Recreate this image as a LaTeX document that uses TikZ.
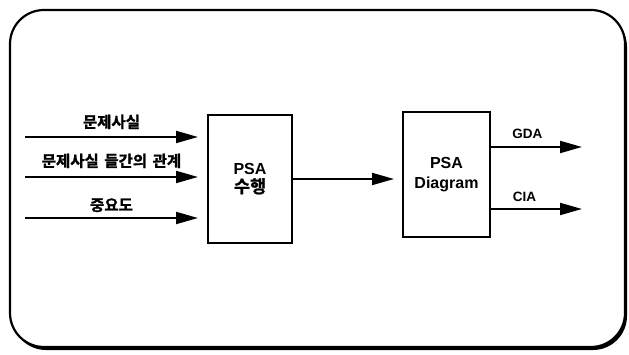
\documentclass[tikz,border=0pt]{standalone}
\usepackage{fontspec}
\setmainfont{Liberation Sans}
\newfontfamily\cjk{Noto Sans CJK KR}[BoldFont={Noto Sans CJK KR Bold},BoldFeatures={FakeBold=1.2}]
\usetikzlibrary{arrows.meta}
\begin{document}
\begin{tikzpicture}[x=1pt,y=-1pt,
  blk/.style={draw,line width=1.6pt,inner sep=0pt,align=center,font=\bfseries\fontsize{16}{20}\selectfont},
  arr/.style={line width=1.8pt,-{Triangle[length=22pt,width=12pt]}},
  lbl/.style={font=\cjk\bfseries\fontsize{15.5}{17}\selectfont,inner sep=0pt},
  olbl/.style={font=\bfseries\fontsize{13.5}{15}\selectfont,inner sep=0pt}]
\useasboundingbox (0,0) rectangle (629,355);
\fill[rounded corners=34pt] (12,13) rectangle (627,350);
\filldraw[fill=white,line width=2.2pt,rounded corners=34pt] (10,10) rectangle (625,347);
\node[blk,minimum width=84pt,minimum height=128pt] (psa) at (250,179) {PSA\\[-2pt]{\cjk\bfseries\fontsize{17.5}{20}\selectfont 수행}};
\node[blk,minimum width=87pt,minimum height=125pt] (dia) at (446.5,174.5) {PSA\\Diagram};
\coordinate (s1) at (25,137);
\coordinate (s2) at (25,177);
\coordinate (s3) at (25,218);
\coordinate (e1) at (198,137);
\coordinate (e2) at (198,177);
\coordinate (e3) at (198,218);
\draw[arr] (s1) -- node[lbl,above=7pt] (l1) {문제사실} (e1);
\draw[arr] (s2) -- node[lbl,above=8pt] (l2) {문제사실\hspace{2pt} 들간의\hspace{2pt} 관계} (e2);
\draw[arr] (s3) -- node[lbl,above=5pt] (l3) {중요도} (e3);
\coordinate (m) at (394,179);
\draw[arr] (psa.east |- m) -- (m);
\coordinate (g) at (582,147);
\coordinate (c) at (582,209);
\draw[arr] (dia.east |- g) -- node[olbl,above=7pt,xshift=-9pt] (lg) {GDA} (g);
\draw[arr] (dia.east |- c) -- node[olbl,above=6pt,xshift=-12pt] (lc) {CIA} (c);
\end{tikzpicture}
\end{document}
